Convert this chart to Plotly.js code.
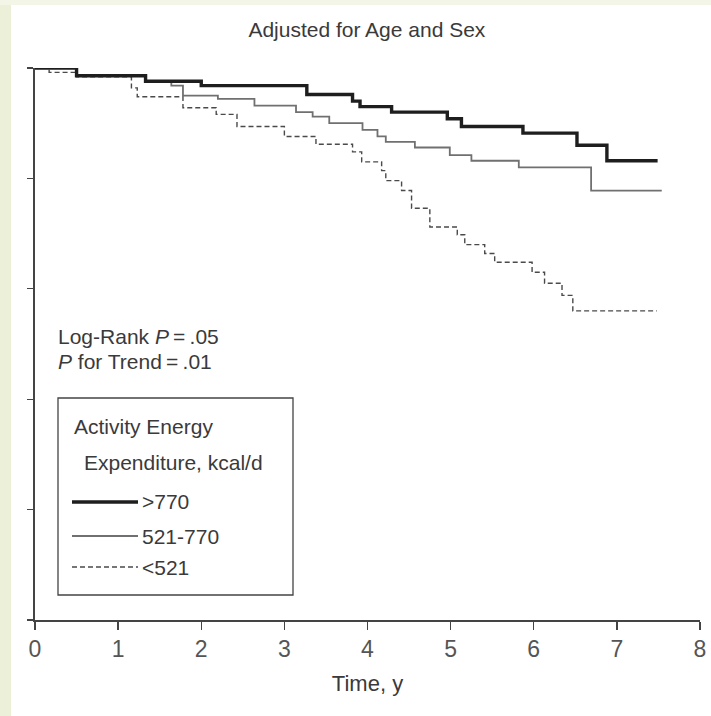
<!DOCTYPE html>
<html>
<head>
<meta charset="utf-8">
<script src="https://cdn.plot.ly/plotly-3.0.1.min.js"></script>
<style>
html,body{margin:0;padding:0;background:#fff;}
#chart{width:711px;height:716px;}
</style>
</head>
<body>
<div id="chart"></div>
<script>
// ---- Data ----
const seriesNames = ['>770', '521-770', '<521'];

const highTime = [0, 0.50, 1.33, 2.00, 3.27, 3.82, 3.91, 4.29, 4.96, 5.13, 5.87, 6.52, 6.88, 7.49];
const highSurv = [1.000, 0.993, 0.988, 0.984, 0.976, 0.970, 0.965, 0.960, 0.954, 0.947, 0.941, 0.930, 0.916, 0.916];

const midTime = [0, 0.50, 1.33, 1.64, 1.78, 2.20, 2.64, 3.14, 3.34, 3.54, 3.94, 4.12, 4.22, 4.57, 4.99, 5.25, 5.82, 6.69, 7.54];
const midSurv = [1.000, 0.993, 0.988, 0.984, 0.975, 0.972, 0.966, 0.960, 0.956, 0.950, 0.944, 0.938, 0.933, 0.928, 0.921, 0.916, 0.910, 0.889, 0.889];

const lowTime = [0, 0.17, 0.50, 1.16, 1.23, 1.78, 2.18, 2.43, 3.00, 3.38, 3.82, 3.93, 4.17, 4.22, 4.41, 4.53, 4.75, 5.08, 5.17, 5.41, 5.53, 5.98, 6.13, 6.34, 6.47, 7.48];
const lowSurv = [1.000, 0.996, 0.992, 0.982, 0.974, 0.964, 0.958, 0.947, 0.938, 0.931, 0.924, 0.915, 0.907, 0.898, 0.889, 0.873, 0.856, 0.849, 0.840, 0.832, 0.824, 0.815, 0.805, 0.794, 0.780, 0.780];

const xTicks = [0, 1, 2, 3, 4, 5, 6, 7, 8];
const yTicks = [0.5, 0.6, 0.7, 0.8, 0.9, 1.0];

const chartTitle = 'Adjusted for Age and Sex';
const xTitle = 'Time, y';
const statLines = ['Log-Rank <i>P</i>\u2009=\u2009.05', '<i>P</i> for Trend\u2009=\u2009.01'];
const legendTitle = ['Activity Energy', 'Expenditure, kcal/d'];

// ---- Styles ----
const FONT = '"Liberation Sans Narrow", "Arial Narrow", "Liberation Sans", Arial, sans-serif';
const TXT = '#3a3a3a';
const styles = [
  {color: '#1e1e1e', width: 3.4, dash: 'solid'},
  {color: '#707070', width: 1.8, dash: 'solid'},
  {color: '#4a4a4a', width: 1.4, dash: '5px,3px'}
];

const times = [highTime, midTime, lowTime];
const survs = [highSurv, midSurv, lowSurv];

const traces = times.map((t, i) => ({
  type: 'scatter',
  mode: 'lines',
  x: t,
  y: survs[i],
  name: seriesNames[i],
  line: {shape: 'hv', color: styles[i].color, width: styles[i].width, dash: styles[i].dash},
  hoverinfo: 'x+y+name',
  showlegend: false
}));
// draw thin lines on top of thick
traces.reverse();

// pixel -> paper helpers for the hand-placed legend box
const L = 35, R = 700, T = 68, B = 620;
const px = v => (v - L) / (R - L);
const py = v => (B - v) / (B - T);

const shapes = [
  // scan border tint
  {type: 'rect', xref: 'paper', yref: 'paper', x0: px(0), x1: px(11), y0: py(716), y1: py(0),
   fillcolor: '#edf0d9', line: {width: 0}, layer: 'below'},
  {type: 'rect', xref: 'paper', yref: 'paper', x0: px(0), x1: px(711), y0: py(5), y1: py(0),
   fillcolor: '#f3f5e6', line: {width: 0}, layer: 'below'},
  // legend box
  {type: 'rect', xref: 'paper', yref: 'paper', x0: px(58), x1: px(293), y0: py(595), y1: py(398),
   fillcolor: 'rgba(255,255,255,0)', line: {color: '#444', width: 1.3}}
];
const legendY = [502, 536, 567];
styles.forEach((s, i) => {
  shapes.push({type: 'line', xref: 'paper', yref: 'paper', x0: px(72), x1: px(138),
    y0: py(legendY[i]), y1: py(legendY[i]),
    line: {color: s.color, width: s.width, dash: s.dash}});
});

const annFont = {family: FONT, size: 21, color: TXT};
const annotations = [
  {text: statLines[0], x: px(56), y: py(336)},
  {text: statLines[1], x: px(56), y: py(362)},
  {text: legendTitle[0], x: px(72), y: py(426)},
  {text: legendTitle[1], x: px(82), y: py(462)},
  {text: seriesNames[0].replace('>', '&gt;'), x: px(140), y: py(legendY[0])},
  {text: seriesNames[1], x: px(140), y: py(legendY[1])},
  {text: seriesNames[2].replace('<', '&lt;'), x: px(140), y: py(legendY[2])}
].map(a => Object.assign({xref: 'paper', yref: 'paper', xanchor: 'left', yanchor: 'middle',
  showarrow: false, font: annFont}, a));

const layout = {
  width: 711, height: 716,
  margin: {l: L, r: 711 - R, t: T, b: 716 - B, pad: 0},
  paper_bgcolor: '#ffffff',
  plot_bgcolor: '#ffffff',
  showlegend: false,
  title: {text: chartTitle, x: 0.516, xanchor: 'center', y: 0.958, yanchor: 'middle',
          font: {family: FONT, size: 21, color: TXT}},
  xaxis: {
    range: [0, 8], tickvals: xTicks, ticktext: xTicks.map(String),
    showgrid: false, zeroline: false, showline: true, linecolor: '#444', linewidth: 1.6,
    ticks: 'outside', ticklen: 8, tickwidth: 1.4, tickcolor: '#444',
    tickfont: {family: FONT, size: 23, color: '#555'},
    title: {text: xTitle, font: {family: FONT, size: 22, color: TXT}, standoff: 14},
    fixedrange: true
  },
  yaxis: {
    range: [0.5, 1.0], tickvals: yTicks, showticklabels: false,
    showgrid: false, zeroline: false, showline: true, linecolor: '#444', linewidth: 1.6,
    ticks: 'outside', ticklen: 6, tickwidth: 1.4, tickcolor: '#444',
    fixedrange: true
  },
  shapes: shapes,
  annotations: annotations
};

Plotly.newPlot('chart', traces, layout, {displayModeBar: false, staticPlot: true});
</script>
</body>
</html>
